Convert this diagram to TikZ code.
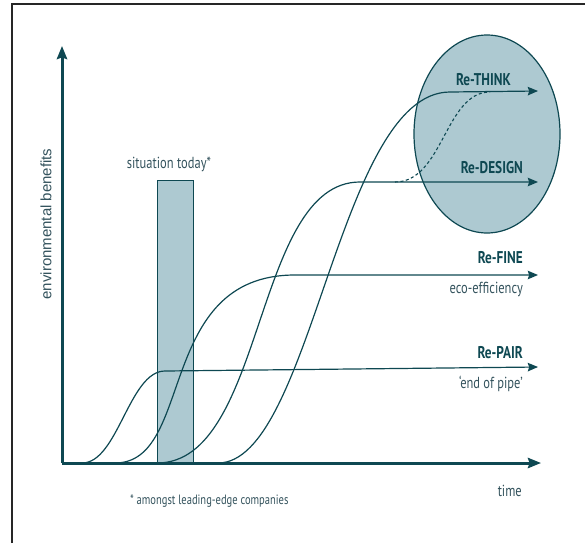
\documentclass[tikz,border=0pt]{standalone}
\usepackage{fontspec}
\setmainfont{PT Sans}
\newfontfamily\condfont{PT Sans}[FakeStretch=0.78]
\newfontfamily\axisfont{Liberation Sans}
\usetikzlibrary{arrows.meta,positioning,shapes.geometric}
\definecolor{Teal}{HTML}{0E4852}
\definecolor{TealSoft}{HTML}{ADC9D1}
\definecolor{Ink}{HTML}{34535D}
\definecolor{Frame}{HTML}{262626}
\tikzset{
  frame/.style={draw=Frame,line width=1.4pt},
  axis/.style={draw=Teal,line width=3pt,-{Stealth[length=4.6mm,width=3.6mm,inset=.6mm]}},
  curve/.style={draw=Teal,line width=1.2pt},
  trend/.style={curve,-{Stealth[length=3.6mm,width=3mm,inset=.5mm]}},
  dashcurve/.style={curve,line width=1.1pt,dash pattern=on 3pt off 2.5pt},
  todaybar/.style={draw=Teal,fill=TealSoft,line width=1.3pt,inner sep=0pt},
  zone/.style={ellipse,draw=Teal,fill=TealSoft,line width=1.2pt,inner sep=0pt},
  retag/.style={font=\condfont\bfseries\fontsize{17}{17}\selectfont,text=Teal,inner sep=0pt},
  subtag/.style={font=\condfont\fontsize{16}{16}\selectfont,text=Ink,inner sep=0pt},
  foottag/.style={font=\condfont\fontsize{13.5}{13.5}\selectfont,text=Ink,inner sep=0pt},
  axistag/.style={font=\axisfont\fontsize{15}{15}\selectfont,text=Ink,inner sep=0pt}
}
\begin{document}
\begin{tikzpicture}[x=1pt,y=-1pt]
  \useasboundingbox (0,0) rectangle (585,543);
  \draw[frame] (12,543) -- (12,4) -- (585,4);
  % shaded zone and today bar
  \node[zone,minimum width=146pt,minimum height=198pt] (rezone) at (487,134) {};
  \node[todaybar,minimum width=36pt,minimum height=282pt,anchor=south west] (nowbar) at (157,463) {};
  % axes
  \coordinate (origin) at (62,463);
  \coordinate (ytop) at (62,46);
  \coordinate (xend) at (541,463);
  \draw[axis] (origin) -- (ytop);
  \draw[axis] (origin) -- (xend);
  % s-curves
  \coordinate (pair0) at (82,463);
  \coordinate (pair1) at (165,371);
  \coordinate (pairend) at (538,367);
  \coordinate (fine0) at (115,463);
  \coordinate (fine1) at (295,275);
  \coordinate (fineend) at (538,275);
  \coordinate (design0) at (157,463);
  \coordinate (design1) at (360,182);
  \coordinate (designend) at (538,182);
  \coordinate (think0) at (218,463);
  \coordinate (think1) at (450,92);
  \coordinate (thinkend) at (538,91);
  \coordinate (dash0) at (395,182);
  \coordinate (dash1) at (490,92);
  \draw[trend] (pair0) .. controls +(36,0) and +(-36,0) .. (pair1) -- (pairend);
  \draw[trend] (fine0) .. controls +(80,0) and +(-140,0) .. (fine1) -- (fineend);
  \draw[trend] (design0) .. controls +(109,0) and +(-107,0) .. (design1) -- (designend);
  \draw[trend] (think0) .. controls +(94,0) and +(-112,0) .. (think1) -- (thinkend);
  \draw[dashcurve] (dash0) .. controls +(48,0) and +(-45,0) .. (dash1);
  % labels
  \node[retag,anchor=base east] (think) at (511,85) {Re-THINK};
  \node[retag,anchor=base east] (design) at (523,173) {Re-DESIGN};
  \node[retag,anchor=base east] (fine) at (523,263) {Re-FINE};
  \node[subtag,anchor=base east] (eco) at (523,293) {eco-efficiency};
  \node[retag,anchor=base east] (pair) at (523,358) {Re-PAIR};
  \node[subtag,anchor=base east] (pipe) at (523,388) {‘end of pipe’};
  \node[subtag,anchor=base] (today) at (169,168) {situation today*};
  \node[foottag,anchor=base west] (footnote) at (130,504) {* amongst leading-edge companies};
  \node[subtag,anchor=base east] (time) at (522,496) {time};
  \node[axistag,rotate=90] (benefit) at (46,224) {environmental benefits};
\end{tikzpicture}
\end{document}
